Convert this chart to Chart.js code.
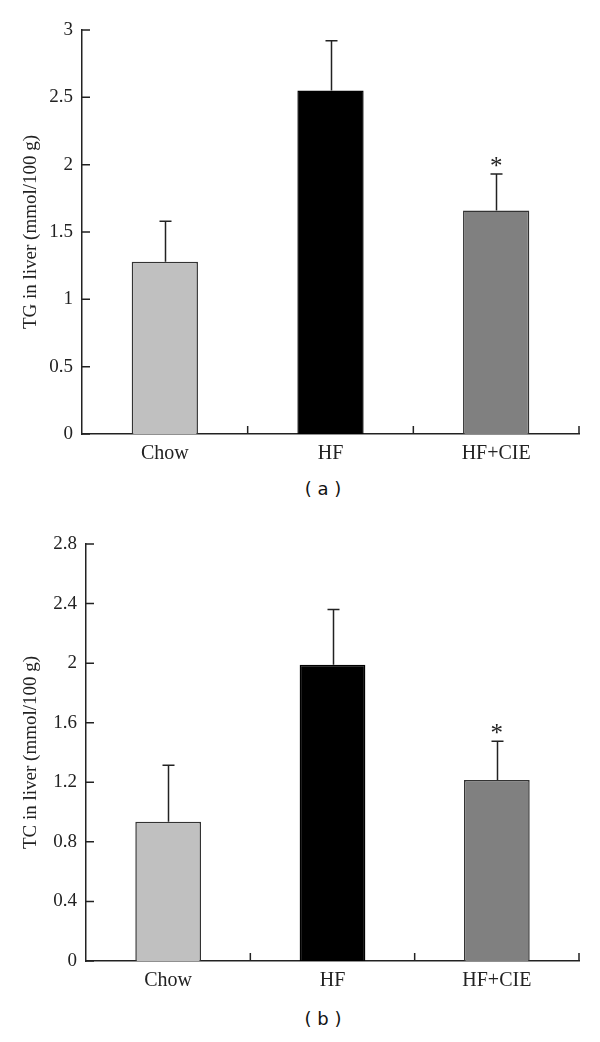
<!DOCTYPE html>
<html>
<head>
<meta charset="utf-8">
<script src="https://cdn.jsdelivr.net/npm/chart.js@4.4.1/dist/chart.umd.min.js"></script>
<style>
  body { margin: 0; background: #fff; width: 600px; height: 1042px; position: relative; overflow: hidden; }
  canvas { position: absolute; left: 0; }
  .cap { position: absolute; font-family: "DejaVu Sans", sans-serif; font-size: 18px; color: #111; transform: translateX(-50%); white-space: pre; }
</style>
</head>
<body>
<canvas id="chartA" width="600" height="470" style="top:0"></canvas>
<div class="cap" style="left:323px; top:478px">( a )</div>
<canvas id="chartB" width="600" height="495" style="top:505px"></canvas>
<div class="cap" style="left:323px; top:1008px">( b )</div>

<script>
// datos
const groups = ['Chow', 'HF', 'HF+CIE'];
const barColors = ['#c0c0c0', '#000000', '#808080'];
const barBorders = ['#333333', '#000000', '#333333'];

const tgMean = [1.28, 2.55, 1.66];
const tgSd = [0.30, 0.37, 0.27];
const tgStars = ['', '', '*'];
const tgTicks = ['0', '0.5', '1', '1.5', '2', '2.5', '3'];

const tcMean = [0.935, 1.99, 1.215];
const tcSd = [0.38, 0.37, 0.26];
const tcStars = ['', '', '*'];
const tcTicks = ['0', '0.4', '0.8', '1.2', '1.6', '2', '2.4', '2.8'];

const serif = '"Liberation Serif", "Times New Roman", serif';

// barras de error, marcas hacia dentro y asteriscos
const errPlugin = {
  id: 'errbars',
  afterDatasetsDraw(chart, args, opts) {
    const { ctx, chartArea } = chart;
    const x = chart.scales.x, y = chart.scales.y;
    const data = chart.data.datasets[0].data;
    ctx.save();
    ctx.strokeStyle = '#222';
    ctx.fillStyle = '#222';
    ctx.lineWidth = 1.5;
    ctx.beginPath();
    data.forEach((m, i) => {
      const cx = Math.round(x.getPixelForValue(i)) + 0.5;
      const top = y.getPixelForValue(m + opts.sd[i]);
      ctx.moveTo(cx, y.getPixelForValue(m));
      ctx.lineTo(cx, top);
      ctx.moveTo(cx - 6, top);
      ctx.lineTo(cx + 6, top);
    });
    // marcas del eje y
    y.ticks.forEach((t, i) => {
      const py = y.getPixelForTick(i);
      ctx.moveTo(chartArea.left, py);
      ctx.lineTo(chartArea.left + 8, py);
    });
    // marcas entre categorias
    const half = (x.getPixelForValue(1) - x.getPixelForValue(0)) / 2;
    data.forEach((m, i) => {
      const bx = x.getPixelForValue(i) + half;
      ctx.moveTo(bx, chartArea.bottom);
      ctx.lineTo(bx, chartArea.bottom - 8);
    });
    ctx.stroke();

    ctx.font = '25px ' + serif;
    ctx.textAlign = 'center';
    ctx.textBaseline = 'alphabetic';
    data.forEach((m, i) => {
      if (!opts.stars[i]) return;
      const top = y.getPixelForValue(m + opts.sd[i]);
      ctx.fillText(opts.stars[i], x.getPixelForValue(i), top);
    });
    ctx.restore();
  }
};

function crearGrafico(id, titulo, mean, sd, stars, tickLabels, step, max, yWidth, padTop, xHeight) {
  const ctx = document.getElementById(id).getContext('2d');
  return new Chart(ctx, {
    type: 'bar',
    data: {
      labels: groups,
      datasets: [{
        data: mean,
        backgroundColor: barColors,
        borderColor: barBorders,
        borderWidth: 1.5,
        barPercentage: 0.4,
        categoryPercentage: 1.0
      }]
    },
    plugins: [errPlugin],
    options: {
      responsive: false,
      animation: false,
      layout: { padding: { left: 0, right: 21, top: padTop, bottom: 0 } },
      plugins: {
        legend: { display: false },
        tooltip: { enabled: false },
        errbars: { sd: sd, stars: stars }
      },
      scales: {
        x: {
          grid: { display: false, drawTicks: false },
          border: { display: true, color: '#222', width: 1.5 },
          ticks: { color: '#222', padding: 8, font: { family: serif, size: 20 } },
          afterFit: s => { s.height = xHeight; }
        },
        y: {
          min: 0,
          max: max,
          grid: { display: false, drawTicks: false },
          border: { display: true, color: '#222', width: 1.5 },
          ticks: {
            stepSize: step,
            color: '#222',
            padding: 9,
            font: { family: serif, size: 19 },
            callback: (v, i) => tickLabels[i]
          },
          title: {
            display: true,
            text: titulo,
            color: '#222',
            font: { family: serif, size: 19 },
            padding: { top: 20, bottom: 0 }
          },
          afterFit: s => { s.width = yWidth; }
        }
      }
    }
  });
}

crearGrafico('chartA', 'TG in liver (mmol/100 g)', tgMean, tgSd, tgStars, tgTicks, 0.5, 3, 82, 30, 36);
crearGrafico('chartB', 'TC in liver (mmol/100 g)', tcMean, tcSd, tcStars, tcTicks, 0.4, 2.8, 86, 39, 39);
</script>
</body>
</html>
